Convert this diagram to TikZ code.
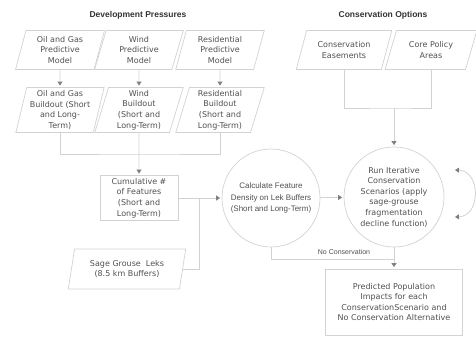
\documentclass[tikz,border=0pt]{standalone}
\usepackage{fontspec}
\setmainfont{DejaVu Sans}
\newfontfamily\arialfont{Liberation Sans}
\usetikzlibrary{shapes.geometric,arrows.meta}

\definecolor{txtgray}{HTML}{505050}
\definecolor{linegray}{HTML}{D2D2D2}
\definecolor{tipgray}{HTML}{808080}

\tikzset{
  box/.style={draw=linegray, line width=0.7pt, text=txtgray, align=center,
    font=\fontsize{8}{10.6}\selectfont, inner sep=1pt},
  para/.style={box, trapezium, trapezium left angle=76, trapezium right angle=104,
    trapezium stretches=true},
  paramodel/.style={para, minimum width=89pt, minimum height=39pt},
  parabuild/.style={para, minimum width=89pt, minimum height=45pt},
  rect/.style={box, rectangle},
  circ/.style={box, circle},
  head/.style={text=black!80, font=\arialfont\bfseries\fontsize{8.5}{10}\selectfont},
  conn/.style={draw=linegray, line width=0.8pt},
  arr/.style={conn, -{Triangle[width=5pt,length=4pt,color=tipgray]}, shorten >=1.5pt},
}

\begin{document}
\begin{tikzpicture}[x=1pt, y=-1pt]
\useasboundingbox (0,0) rectangle (476,337);

% development pressures
\node [head] (hdev) at (138,15) {Development Pressures};

\node [paramodel] (oilm) at (60,50) {Oil and Gas\\Predictive\\Model};
\node [paramodel] (windm) at (139,50) {Wind\\Predictive\\Model};
\node [paramodel] (resm) at (220,50) {Residential\\Predictive\\Model};

\node [parabuild] (oilb) at (60,110) {Oil and Gas\\Buildout (Short\\and Long-\\Term)};
\node [parabuild] (windb) at (139,110) {Wind\\Buildout\\(Short and\\Long-Term)};
\node [parabuild] (resb) at (220,110) {Residential\\Buildout\\(Short and\\Long-Term)};

\draw [arr] (oilm) -- (oilb);
\draw [arr] (windm) -- (windb);
\draw [arr] (resm) -- (resb);

% cumulative features
\coordinate (mrg) at (139,154);
\draw [conn] (oilb) |- (mrg) -| (resb);

\node [rect, minimum width=78pt, minimum height=45pt] (cum) at (139,198)
  {Cumulative \#\\of Features\\(Short and\\Long-Term)};
\draw [arr] (windb) -- (cum);

% leks
\node [para, trapezium left angle=77, trapezium right angle=103,
  minimum width=118pt, minimum height=40pt] (leks) at (127,269)
  {Sage Grouse~ Leks\\(8.5 km Buffers)};

% feature density
\node [circ, minimum size=98pt, font=\arialfont\fontsize{8}{11.5}\selectfont]
  (calc) at (271,198) {Calculate Feature\\Density on Lek Buffers\\(Short and Long-Term)};

\coordinate (jn) at (199,198);
\draw [arr] (cum) -- (calc);
\draw [conn] (leks.east) -| (jn);

% conservation options
\node [head] (hcons) at (383,15) {Conservation Options};

\node [para, trapezium left angle=68, trapezium right angle=112,
  minimum width=96pt, minimum height=39pt] (eas) at (344,50) {Conservation\\Easements};
\node [para, trapezium left angle=68, trapezium right angle=112,
  minimum width=92pt, minimum height=39pt] (core) at (431,50) {Core Policy\\Areas};

\node [circ, minimum size=100pt] (run) at (394,197)
  {Run Iterative\\Conservation\\Scenarios (apply\\sage-grouse\\fragmentation\\decline function)};

\coordinate (cmrg) at (394,108);
\draw [conn] (eas) |- (cmrg) -| (core);
\draw [arr] (cmrg) -- (run);
\draw [arr] (calc) -- (run);

% iteration loop
\coordinate (lpt) at (455,170);
\coordinate (lpb) at (455,217);
\draw [conn, {Triangle[width=5pt,length=4pt,color=tipgray]}-{Triangle[width=5pt,length=4pt,color=tipgray]}]
  (lpt) .. controls (481,171) and (481,216) .. (lpb);

% outcome
\node [rect, minimum width=137pt, minimum height=66pt] (pred) at (394,302)
  {Predicted Population\\Impacts for each\\ConservationScenario and\\No Conservation Alternative};

\coordinate (nc) at (394,259);
\draw [conn] (calc) |- (nc);
\draw [arr] (run) -- (pred);
\node [text=txtgray, font=\arialfont\fontsize{7}{8}\selectfont] (nclab) at (344,252) {No Conservation};
\end{tikzpicture}
\end{document}
